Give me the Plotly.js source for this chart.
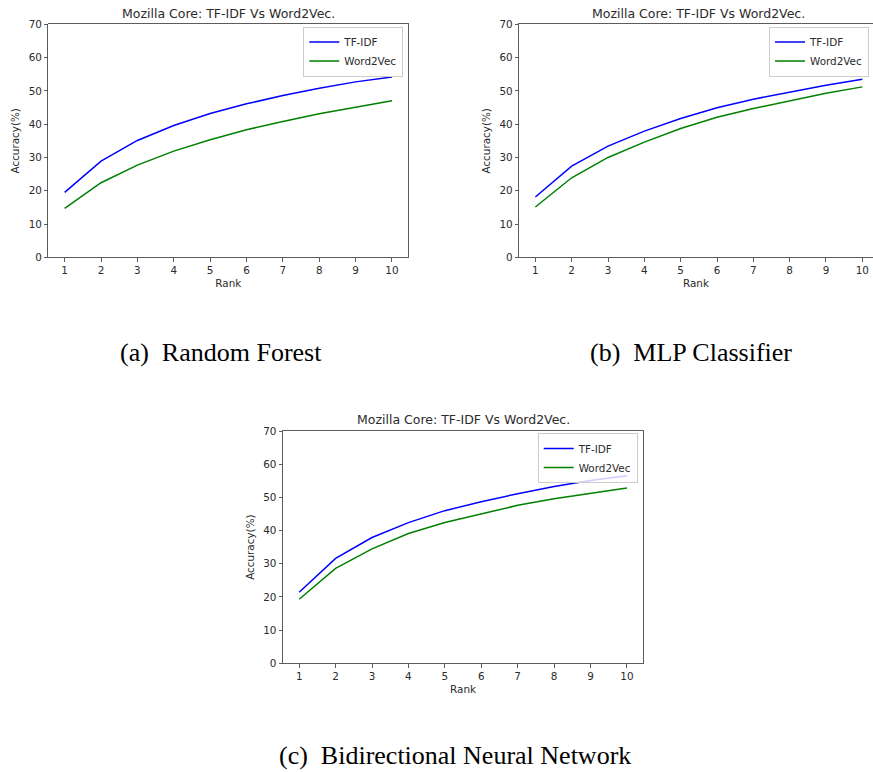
<!DOCTYPE html>
<html>
<head>
<meta charset="utf-8">
<script src="https://cdn.plot.ly/plotly-3.0.1.min.js"></script>
<style>
  html, body { margin: 0; padding: 0; background: #ffffff; }
  #chart { width: 873px; height: 772px; }
</style>
</head>
<body>
<div id="chart"></div>
<script>
// ---- data ----
const ranks = [1, 2, 3, 4, 5, 6, 7, 8, 9, 10];
const seriesNames = ["TF-IDF", "Word2Vec"];
const panelTitle = "Mozilla Core: TF-IDF Vs Word2Vec.";
const captions = ["(a)\u00A0\u00A0Random Forest", "(b)\u00A0\u00A0MLP Classifier", "(c)\u00A0\u00A0Bidirectional Neural Network"];
const xAxisTitle = "Rank";
const yAxisTitle = "Accuracy(%)";
const yTickVals = [0, 10, 20, 30, 40, 50, 60, 70];

// (a) Random Forest
const rfTfidf = [19.5, 28.9, 35.1, 39.6, 43.2, 46.1, 48.6, 50.8, 52.7, 54.2];
const rfWord2vec = [14.7, 22.4, 27.7, 31.9, 35.3, 38.3, 40.8, 43.1, 45.1, 47.0];
// (b) MLP Classifier
const mlpTfidf = [18.1, 27.4, 33.4, 37.9, 41.7, 44.9, 47.5, 49.7, 51.7, 53.5];
const mlpWord2vec = [15.1, 23.9, 30.0, 34.6, 38.7, 42.1, 44.7, 47.1, 49.3, 51.2];
// (c) Bidirectional Neural Network
const bnnTfidf = [21.4, 31.6, 37.9, 42.4, 46.0, 48.7, 51.1, 53.3, 55.1, 56.5];
const bnnWord2vec = [19.3, 28.6, 34.5, 39.1, 42.4, 45.1, 47.6, 49.6, 51.2, 52.8];

// ---- styling ----
const W = 873, H = 772;
const TXT = "#2b2b2b";
const FRAME = "#333333";
const SANS = "DejaVu Sans, sans-serif";
const SERIF = "Liberation Serif, Times New Roman, serif";
const colors = ["#0000ff", "#008000"];

function px(x) { return x / W; }
function py(y) { return 1 - y / H; }

const panels = [
  { tf: rfTfidf, w2v: rfWord2vec, xa: "x", ya: "y", lg: "legend",
    box: [48.3, 408.3, 24.3, 257.3], xr: [0.55, 10.45], mirrorY: true,
    titleX: 228.3, titleY: 14, legX: 403.3, legY: 26.5, cap: [221.3, 352] },
  { tf: mlpTfidf, w2v: mlpWord2vec, xa: "x2", ya: "y2", lg: "legend2",
    box: [519, 873, 24.3, 257.3], xr: [0.55, 10.294], mirrorY: false,
    titleX: 698.9, titleY: 14, legX: 869, legY: 26.5, cap: [691.3, 352] },
  { tf: bnnTfidf, w2v: bnnWord2vec, xa: "x3", ya: "y3", lg: "legend3",
    box: [282.8, 643.3, 431, 663.3], xr: [0.55, 10.45], mirrorY: true,
    titleX: 463, titleY: 419.3, legX: 637.7, legY: 433, cap: [454.5, 755] }
];

const traces = [];
const layout = {
  width: W, height: H,
  margin: { l: 0, r: 0, t: 0, b: 0 },
  paper_bgcolor: "#ffffff",
  plot_bgcolor: "#ffffff",
  font: { family: SANS, color: TXT, size: 10.4 },
  showlegend: true,
  annotations: []
};

panels.forEach((p, i) => {
  const sfx = i === 0 ? "" : String(i + 1);
  [p.tf, p.w2v].forEach((vals, k) => {
    traces.push({
      type: "scatter", mode: "lines",
      x: ranks, y: vals, name: seriesNames[k],
      xaxis: p.xa, yaxis: p.ya, legend: p.lg,
      line: { color: colors[k], width: 1.5 },
      hoverinfo: "x+y+name"
    });
  });
  layout["xaxis" + sfx] = {
    domain: [px(p.box[0]), px(p.box[1])],
    anchor: p.ya,
    range: p.xr,
    tickmode: "array", tickvals: ranks, ticktext: ranks.map(String),
    ticks: "outside", ticklen: 3.5, tickwidth: 0.8, tickcolor: FRAME,
    showline: true, linecolor: FRAME, linewidth: 0.8, mirror: true,
    showgrid: false, zeroline: false,
    tickfont: { family: SANS, size: 10.4, color: TXT },
    title: { text: xAxisTitle, font: { family: SANS, size: 10.4, color: TXT }, standoff: 4 },
    fixedrange: true
  };
  layout["yaxis" + sfx] = {
    domain: [py(p.box[3]), py(p.box[2])],
    anchor: p.xa,
    range: [0, 70],
    tickmode: "array", tickvals: yTickVals, ticktext: yTickVals.map(String),
    ticks: "outside", ticklen: 3.5, tickwidth: 0.8, tickcolor: FRAME,
    showline: true, linecolor: FRAME, linewidth: 0.8, mirror: p.mirrorY,
    showgrid: false, zeroline: false,
    tickfont: { family: SANS, size: 10.4, color: TXT },
    title: { text: yAxisTitle, font: { family: SANS, size: 10.4, color: TXT }, standoff: 6 },
    fixedrange: true
  };
  layout[p.lg] = {
    x: px(p.legX), xanchor: "right", xref: "paper",
    y: py(p.legY), yanchor: "top", yref: "paper",
    bgcolor: "rgba(255,255,255,0.8)", bordercolor: "#cccccc", borderwidth: 1,
    font: { family: SANS, size: 10.4, color: TXT },
    tracegroupgap: 0, itemwidth: 30
  };
  layout.annotations.push({
    text: panelTitle, xref: "paper", yref: "paper",
    x: px(p.titleX), y: py(p.titleY), xanchor: "center", yanchor: "middle",
    showarrow: false, font: { family: SANS, size: 12.5, color: TXT }
  });
  layout.annotations.push({
    text: captions[i], xref: "paper", yref: "paper",
    x: px(p.cap[0]), y: py(p.cap[1]), xanchor: "center", yanchor: "middle",
    showarrow: false, font: { family: SERIF, size: 26, color: "#000000" }
  });
});

Plotly.newPlot("chart", traces, layout, { displayModeBar: false, staticPlot: true });
</script>
</body>
</html>
